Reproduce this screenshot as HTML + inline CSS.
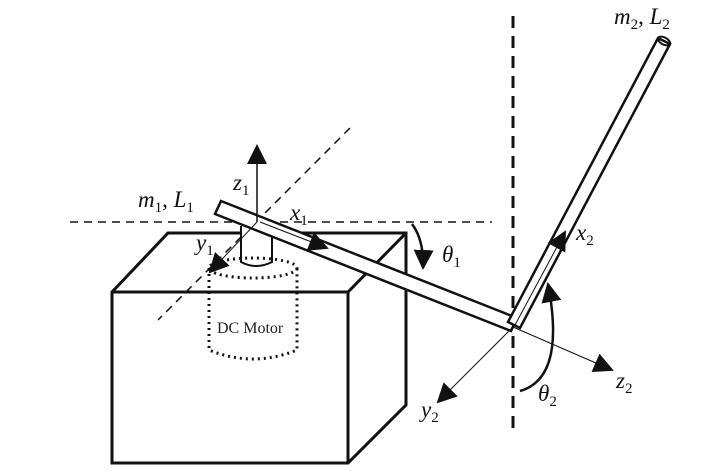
<!DOCTYPE html>
<html><head><style>body{margin:0;background:#fff}svg{display:block}</style></head><body>
<svg width="720" height="476" viewBox="0 0 720 476" xmlns="http://www.w3.org/2000/svg" font-family="Liberation Serif, serif">
<defs><marker id="b" viewBox="0 0 10 10" refX="9" refY="5" markerWidth="20" markerHeight="20" orient="auto" markerUnits="userSpaceOnUse"><path d="M0,0L10,5L0,10z" fill="#111"/></marker></defs>
<g stroke="#111" fill="none">
<path d="M112,292 L168,233 L406,233 L406,405 L348,463 L112,463 Z M112,292 L348,292 L406,233 M348,292 L348,463" stroke-width="3"/>
<line x1="70" y1="222" x2="492" y2="222" stroke-width="1.5" stroke-dasharray="8,6"/>
<line x1="513" y1="16" x2="513" y2="436" stroke-width="3" stroke-dasharray="12,8"/>
<line x1="350" y1="128" x2="158" y2="320" stroke-width="1.5" stroke-dasharray="8,6"/>
<path d="M241,226 L241,262 Q256,270 272,262 L272,226" stroke-width="2" fill="#fff"/>
<ellipse cx="253" cy="268" rx="44" ry="10" stroke-width="3" stroke-dasharray="2,4"/>
<path d="M209,268 L209,350 Q253,368 297,350 L297,268" stroke-width="3" stroke-dasharray="2,4"/>
<polygon points="221,201 517,318 511,331 215,214" fill="#fff" stroke-width="2.5"/>
<polygon points="508,322 658,38 670,44 520,328" fill="#fff" stroke-width="2.5"/>
<ellipse cx="664" cy="41" rx="6.5" ry="3.5" transform="rotate(28 664 41)" stroke-width="2"/>
<line x1="257" y1="222" x2="257" y2="146" stroke-width="1.5" marker-end="url(#b)"/>
<line x1="257" y1="222" x2="210" y2="272" stroke-width="1" marker-end="url(#b)"/>
<line x1="260" y1="222" x2="327" y2="248" stroke-width="1" marker-end="url(#b)"/>
<line x1="515" y1="325" x2="565" y2="232" stroke-width="1" marker-end="url(#b)"/>
<line x1="513" y1="327" x2="438" y2="402" stroke-width="1" marker-end="url(#b)"/>
<line x1="513" y1="327" x2="612" y2="370" stroke-width="1" marker-end="url(#b)"/>
<path d="M412,224 Q424,240 423,268" stroke-width="2.5" marker-end="url(#b)"/>
<path d="M520,391 Q566,378 548,284" stroke-width="2.5" marker-end="url(#b)"/>
</g>
<g font-family="Liberation Serif, DejaVu Serif, serif" font-style="italic" font-size="23" fill="#111">
<text x="614" y="24">m<tspan font-size="15" dy="5" font-style="normal">2</tspan><tspan dy="-5" font-style="normal">, </tspan>L<tspan font-size="15" dy="5" font-style="normal">2</tspan></text>
<text x="138" y="207">m<tspan font-size="15" dy="5" font-style="normal">1</tspan><tspan dy="-5" font-style="normal">, </tspan>L<tspan font-size="15" dy="5" font-style="normal">1</tspan></text>
<text x="233" y="190">z<tspan font-size="15" dy="5" font-style="normal">1</tspan></text>
<text x="290" y="220">x<tspan font-size="15" dy="5" font-style="normal">1</tspan></text>
<text x="196" y="250">y<tspan font-size="15" dy="5" font-style="normal">1</tspan></text>
<text x="442" y="262">θ<tspan font-size="15" dy="5" font-style="normal">1</tspan></text>
<text x="576" y="240">x<tspan font-size="15" dy="5" font-style="normal">2</tspan></text>
<text x="538" y="401">θ<tspan font-size="15" dy="5" font-style="normal">2</tspan></text>
<text x="421" y="417">y<tspan font-size="15" dy="5" font-style="normal">2</tspan></text>
<text x="616" y="388">z<tspan font-size="15" dy="5" font-style="normal">2</tspan></text>
</g>
<text x="217" y="333" font-size="16" fill="#222" font-family="Liberation Serif, serif">DC Motor</text>
</svg>
</body></html>
